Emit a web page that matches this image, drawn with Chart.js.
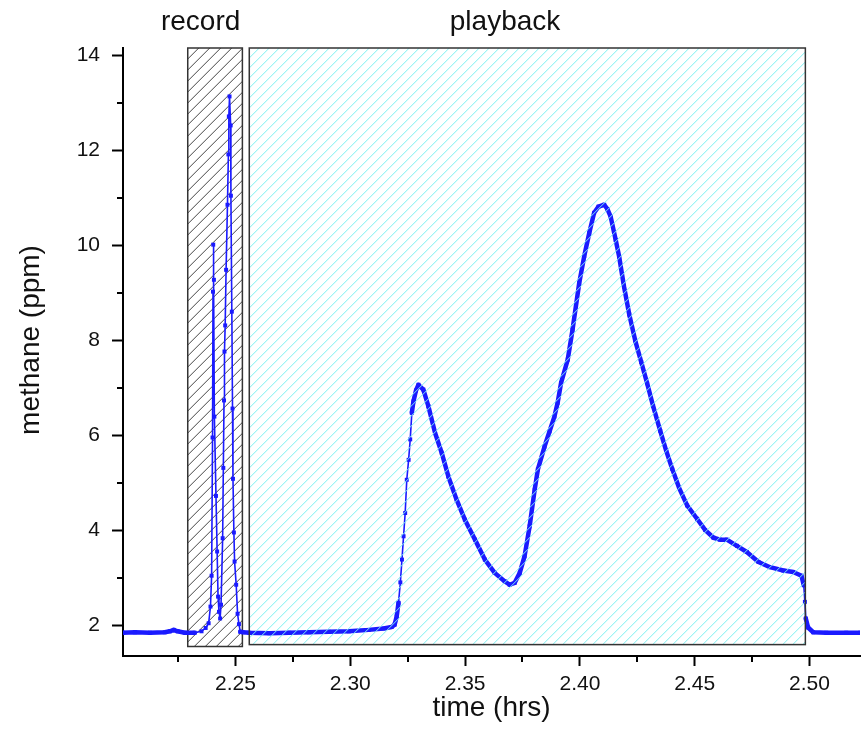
<!DOCTYPE html>
<html>
<head>
<meta charset="utf-8">
<title>methane record / playback</title>
<script src="https://cdn.jsdelivr.net/npm/chart.js@4/dist/chart.umd.min.js"></script>
<style>
    html, body { margin: 0; padding: 0; background: #fff; }
    #wrap { width: 864px; height: 749px; }
</style>
</head>
<body>
<div id="wrap"><canvas id="methaneChart" width="864" height="749"></canvas></div>
<script>
// Data: time (hrs) and methane (ppm)
const timeHrs = [
    2.2010, 2.2062, 2.2127, 2.2192, 2.2214, 2.2231, 2.2248, 2.2279, 2.2322, 2.2352, 2.2370, 2.2383,
    2.2391, 2.2396, 2.2400, 2.2402, 2.2403, 2.2406, 2.2408, 2.2415, 2.2420, 2.2424, 2.2428, 2.2433,
    2.2437, 2.2444, 2.2447, 2.2450, 2.2452, 2.2455, 2.2459, 2.2465, 2.2469, 2.2471, 2.2474, 2.2479,
    2.2480, 2.2484, 2.2487, 2.2489, 2.2493, 2.2496, 2.2503, 2.2509, 2.2515, 2.2521, 2.2534,
    2.2560, 2.2647, 2.2734, 2.2820, 2.2907, 2.2994, 2.3080, 2.3145, 2.3180, 2.3193, 2.3202, 2.3210,
    2.3218, 2.3225, 2.3232, 2.3239, 2.3246, 2.3254, 2.3261, 2.3268, 2.3275, 2.3286, 2.3297, 2.3318,
    2.3340, 2.3369, 2.3398, 2.3427, 2.3463, 2.3499, 2.3543, 2.3586, 2.3629, 2.3673, 2.3694, 2.3716,
    2.3738, 2.3759, 2.3781, 2.3803, 2.3817, 2.3846, 2.3868, 2.3889, 2.3903, 2.3918, 2.3947, 2.3968,
    2.3997, 2.4019, 2.4041, 2.4062, 2.4081, 2.4106, 2.4120, 2.4134, 2.4156, 2.4171, 2.4192, 2.4215,
    2.4241, 2.4267, 2.4293, 2.4319, 2.4350, 2.4376, 2.4402, 2.4432, 2.4467, 2.4510, 2.4546, 2.4582,
    2.4610, 2.4640, 2.4684, 2.4727, 2.4778, 2.4828, 2.4886, 2.4929, 2.4965, 2.4975, 2.4980, 2.4984,
    2.4994, 2.5016, 2.5073, 2.5160, 2.5221
];
const methanePpm = [
    1.85, 1.86, 1.85, 1.86, 1.88, 1.91, 1.88, 1.85, 1.85, 1.88, 1.95, 2.05,
    2.40, 3.05, 5.96, 9.03, 10.02, 9.28, 6.40, 4.73, 3.56, 2.61, 2.29, 2.15,
    2.44, 3.84, 5.32, 6.74, 7.77, 8.32, 9.49, 10.86, 11.92, 12.72, 13.14, 12.53,
    11.05, 8.61, 6.57, 5.09, 3.96, 3.35, 2.86, 2.25, 2.03, 1.87, 1.86,
    1.85, 1.84, 1.85, 1.86, 1.87, 1.88, 1.91, 1.94, 1.97, 2.02, 2.19, 2.48,
    2.91, 3.39, 3.88, 4.37, 5.07, 5.49, 5.92, 6.48, 6.72, 6.95, 7.07, 6.97,
    6.62, 6.06, 5.64, 5.14, 4.65, 4.23, 3.81, 3.39, 3.11, 2.93, 2.86, 2.90,
    3.11, 3.46, 4.09, 4.86, 5.29, 5.77, 6.09, 6.40, 6.69, 7.11, 7.60, 8.23,
    9.21, 9.78, 10.27, 10.69, 10.82, 10.86, 10.77, 10.61, 10.12, 9.77, 9.14, 8.55,
    8.00, 7.55, 7.10, 6.62, 6.10, 5.68, 5.30, 4.90, 4.53, 4.25, 4.01, 3.85,
    3.81, 3.81, 3.68, 3.55, 3.34, 3.23, 3.16, 3.13, 3.05, 2.85, 2.50, 2.15,
    1.96, 1.86, 1.85, 1.85, 1.85
];

// Axis ticks
const xTicks = [2.25, 2.30, 2.35, 2.40, 2.45, 2.50];
const xMinorTicks = [2.225, 2.275, 2.325, 2.375, 2.425, 2.475];
const yTicks = [2, 4, 6, 8, 10, 12, 14];
const yMinorTicks = [3, 5, 7, 9, 11, 13];

// Shaded regions (time bounds, bottom value) and their captions
const regionNames = ['record', 'playback'];
const regionStart = [2.2292, 2.2560];
const regionEnd = [2.2530, 2.4982];
const regionBottom = [1.56, 1.60];
const regionLabelAt = [2.2348, 2.3674];

// Theme
const LINE_BLUE = '#1a1aff';
const AXIS_BLACK = '#000';
const TEXT_COLOR = '#111';
const FONT = "'Liberation Sans', Arial, sans-serif";

function hatchBox(ctx, left, top, right, bottom, color, gap) {
    ctx.save();
    ctx.beginPath();
    ctx.rect(left, top, right - left, bottom - top);
    ctx.clip();
    ctx.strokeStyle = color;
    ctx.lineWidth = 1;
    ctx.beginPath();
    const h = bottom - top;
    for (let s = left - h; s < right + gap; s += gap) {
        ctx.moveTo(s, bottom);
        ctx.lineTo(s + h, top);
    }
    ctx.stroke();
    ctx.restore();

    ctx.save();
    ctx.strokeStyle = '#333';
    ctx.lineWidth = 1.5;
    ctx.strokeRect(left, top, right - left, bottom - top);
    ctx.restore();
}

function regionRect(chart, i) {
    const { x, y } = chart.scales;
    return {
        left: x.getPixelForValue(regionStart[i]),
        right: x.getPixelForValue(regionEnd[i]),
        top: chart.chartArea.top,
        bottom: y.getPixelForValue(regionBottom[i])
    };
}

const overlayPlugin = {
    id: 'overlay',
    beforeDatasetsDraw(chart) {
        // record box sits under the trace
        const r = regionRect(chart, 0);
        hatchBox(chart.ctx, r.left, r.top, r.right, r.bottom, '#444', 11);
    },
    afterDatasetsDraw(chart) {
        // playback hatch runs over the trace
        const r = regionRect(chart, 1);
        hatchBox(chart.ctx, r.left, r.top, r.right, r.bottom, '#7af0f0', 10);
    },
    afterDraw(chart) {
        const { ctx, chartArea, scales: { x, y } } = chart;

        // minor ticks
        ctx.save();
        ctx.strokeStyle = AXIS_BLACK;
        ctx.lineWidth = 2;
        ctx.beginPath();
        xMinorTicks.forEach(v => {
            const px = Math.round(x.getPixelForValue(v));
            ctx.moveTo(px, chartArea.bottom);
            ctx.lineTo(px, chartArea.bottom + 6);
        });
        yMinorTicks.forEach(v => {
            const py = Math.round(y.getPixelForValue(v));
            ctx.moveTo(chartArea.left - 6, py);
            ctx.lineTo(chartArea.left, py);
        });
        ctx.stroke();

        // captions and axis titles
        ctx.fillStyle = TEXT_COLOR;
        ctx.font = '28px ' + FONT;
        ctx.textAlign = 'center';
        ctx.textBaseline = 'middle';
        regionNames.forEach((name, i) => {
            ctx.fillText(name, x.getPixelForValue(regionLabelAt[i]), 22);
        });
        ctx.fillText('time (hrs)', (chartArea.left + chartArea.right) / 2, 708);

        ctx.translate(31, 340);
        ctx.rotate(-Math.PI / 2);
        ctx.fillText('methane (ppm)', 0, 0);
        ctx.restore();
    }
};

// steep segments are sparse samples, drawn as a thin line with markers
function isSteep(p0, p1) {
    const dx = Math.abs(p1.x - p0.x);
    const dy = Math.abs(p1.y - p0.y);
    return dy > 9 * Math.max(dx, 0.1);
}

function renderChart() {
    const ctx = document.getElementById('methaneChart').getContext('2d');
    const points = timeHrs.map((t, i) => ({ x: t, y: methanePpm[i] }));

    new Chart(ctx, {
        type: 'line',
        data: {
            datasets: [{
                label: 'methane',
                data: points,
                borderColor: LINE_BLUE,
                backgroundColor: LINE_BLUE,
                borderWidth: 4.5,
                borderJoinStyle: 'round',
                borderCapStyle: 'round',
                pointStyle: 'rect',
                pointRadius: 2.8,
                pointBorderWidth: 0,
                pointBackgroundColor: LINE_BLUE,
                tension: 0,
                segment: {
                    borderWidth: c => {
                        const t = c.p0.parsed.x;
                        const inRecord = t >= regionStart[0] && t <= regionEnd[0] - 0.001;
                        return (inRecord || isSteep(c.p0, c.p1)) ? 1.6 : 4.5;
                    }
                }
            }]
        },
        options: {
            responsive: false,
            devicePixelRatio: 1,
            animation: false,
            layout: { padding: { top: 48, left: 0, right: 0, bottom: 0 } },
            plugins: {
                legend: { display: false },
                tooltip: { enabled: false }
            },
            scales: {
                x: {
                    type: 'linear',
                    min: 2.201,
                    max: 2.522,
                    afterBuildTicks: s => { s.ticks = xTicks.map(v => ({ value: v })); },
                    afterFit: s => { s.height = 93; },
                    grid: {
                        drawOnChartArea: false,
                        drawTicks: true,
                        tickLength: 10,
                        tickWidth: 2,
                        tickColor: AXIS_BLACK
                    },
                    border: { display: true, color: AXIS_BLACK, width: 2 },
                    ticks: {
                        autoSkip: false,
                        maxRotation: 0,
                        padding: 6,
                        color: TEXT_COLOR,
                        font: { family: FONT, size: 21 },
                        callback: v => Number(v).toFixed(2)
                    }
                },
                y: {
                    type: 'linear',
                    min: 1.36,
                    max: 14.16,
                    afterBuildTicks: s => { s.ticks = yTicks.map(v => ({ value: v })); },
                    afterFit: s => { s.width = 123; },
                    grid: {
                        drawOnChartArea: false,
                        drawTicks: true,
                        tickLength: 11,
                        tickWidth: 2,
                        tickColor: AXIS_BLACK
                    },
                    border: { display: true, color: AXIS_BLACK, width: 2 },
                    ticks: {
                        padding: 12,
                        color: TEXT_COLOR,
                        font: { family: FONT, size: 21 },
                        callback: v => String(v)
                    }
                }
            }
        },
        plugins: [overlayPlugin]
    });
}

renderChart();
</script>
</body>
</html>
